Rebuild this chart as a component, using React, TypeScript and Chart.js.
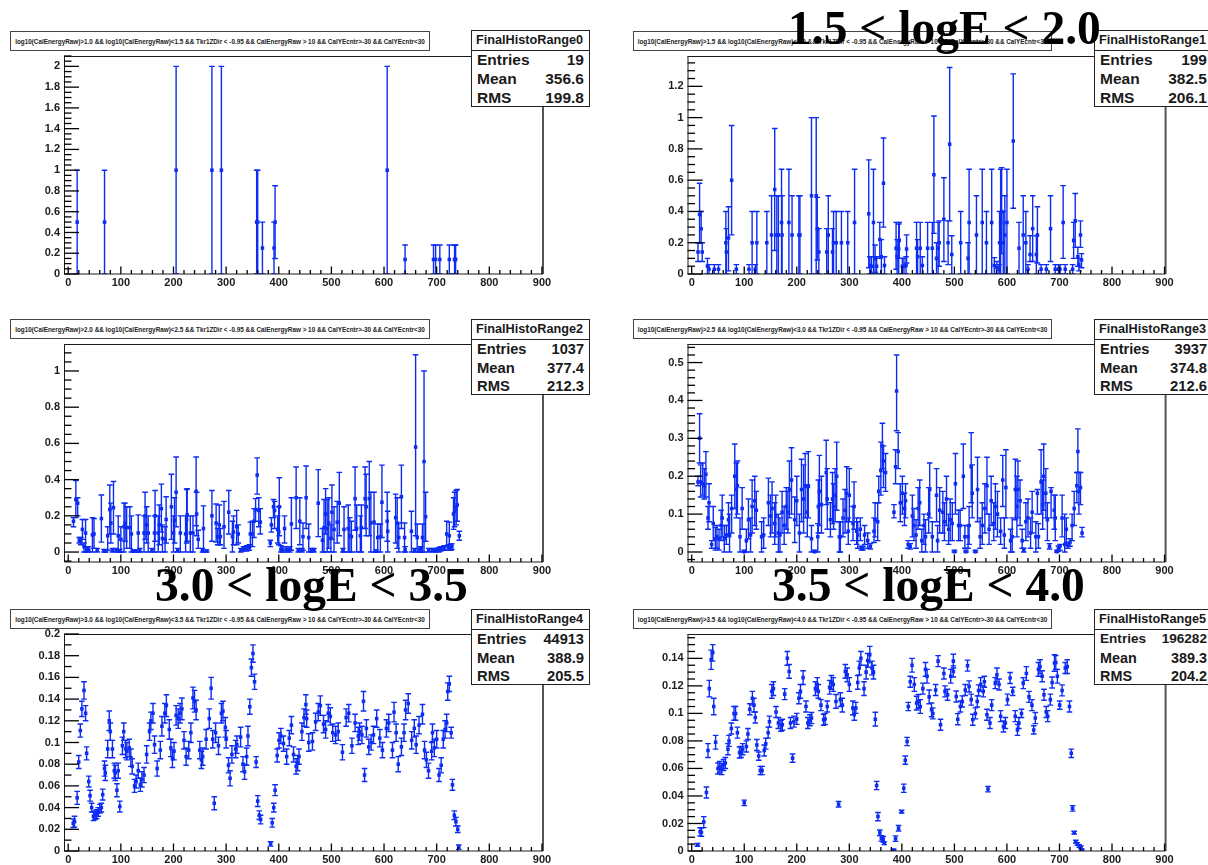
import React, { useEffect, useRef } from "react";
import { Chart, registerables } from "chart.js";

Chart.register(...registerables);

// Values: [x, y, lower end of error bar, upper end of error bar]
const range0 = [
  [17,.5,0,1],[69,.5,0,1],[205,1,0,2],[273,1,0,2],[291,1,0,2],[358,.5,0,1],[360,.5,0,1],[369,.25,0,.5],[391,.25,0,.5],[393,.5,.15,.85],
  [606,1,0,2],[640,.14,0,.28],[694,.14,0,.28],[698,.14,0,.28],[706,.14,0,.28],[724,.14,0,.28],[734,.14,0,.28],[735,.14,0,.28],[736,.14,0,.28],
];
const range1 = [
  [12,.14,.08,.2],[15,.38,.2,.58],[18,.29,.2,.4],[20,.14,.08,.2],[30,.05,0,.1],[33,.03,0,.06],[43,.03,0,.06],[51,.03,0,.06],[65,.2,0,.4],[66,.14,0,.29],
  [70,.23,.02,.43],[76,.6,.25,.95],[85,.03,0,.06],[109,.03,0,.06],[115,.2,0,.4],[121,.03,0,.06],[124,.2,0,.4],[143,.2,0,.4],[152,.25,0,.5],[158,.54,.15,.93],
  [162,.25,0,.5],[165,.25,0,.5],[171,.33,0,.67],[172,.25,0,.5],[185,.33,0,.67],[191,.25,0,.5],[204,.25,0,.5],[206,.25,0,.5],[228,.5,0,1],[237,.5,0,1],
  [239,.29,.09,.49],[242,.14,0,.29],[257,.14,0,.29],[260,.25,0,.5],[268,.14,0,.29],[270,.2,0,.4],[275,.2,0,.4],[285,.2,0,.4],[297,.2,0,.4],[310,.33,0,.67],
  [337,.385,.04,.73],[339,.055,0,.11],[342,.05,0,.11],[346,.33,0,.67],[349,.1,.01,.185],[352,.05,0,.11],[358,.22,.1,.33],[361,.11,0,.22],[365,.58,.3,.87],[367,.055,0,.11],
  [389,.165,.03,.33],[391,.11,0,.22],[394,.16,0,.32],[395,.215,.1,.33],[401,.05,0,.1],[404,.05,0,.1],[408,.055,0,.11],[409,.16,.07,.25],[428,.165,0,.33],[430,.11,0,.22],
  [435,.165,0,.33],[439,.055,0,.11],[449,.165,0,.33],[458,.165,0,.33],[461,.635,.26,1.01],[466,.1,0,.2],[469,.165,0,.33],[471,.2,.05,.34],[480,.35,.08,.615],[488,.2,.06,.34],
  [491,.83,.34,1.32],[495,.125,0,.245],[512,.2,0,.4],[526,.1,0,.2],[528,.33,0,.67],[542,.25,0,.5],[553,.33,0,.67],[561,.2,0,.4],[571,.33,0,.67],[576,.055,0,.105],
  [581,.04,0,.08],[585,.03,0,.06],[586,.2,0,.4],[588,.33,0,.67],[590,.4,.13,.68],[593,.2,0,.4],[596,.25,0,.5],[600,.33,0,.67],[612,.85,.42,1.28],[623,.165,0,.33],
  [631,.25,0,.5],[636,.2,0,.4],[640,.03,0,.06],[644,.125,.08,.245],[649,.29,.08,.5],[656,.125,0,.245],[658,.25,.07,.43],[665,.03,0,.06],[675,.03,0,.06],[683,.29,.08,.5],
  [692,.03,0,.06],[698,.03,0,.06],[701,.03,0,.06],[707,.33,.1,.565],[711,.03,0,.06],[725,.03,0,.06],[727,.215,.1,.33],[730,.34,.17,.515],[735,.11,.05,.17],[737,.06,.02,.1],
  [740,.25,.17,.34],[742,.09,.04,.13],
];
const range2 = [
  [10,.17,.14,.19],[14.5,.29,.19,.395],[18,.27,.2,.3],[21,.065,.05,.08],[24,.06,.04,.08],[27,.125,.07,.18],[30,.03,0,.05],[33,.105,0,.18],[36,.01,0,.025],[39,.012,0,.03],
  [46,.095,0,.19],[49,.1,.02,.185],[55,.01,0,.02],[63,.185,.055,.315],[68,.008,0,.015],[71,.005,0,.012],[75,.09,.01,.14],[79,.235,.1,.37],[81,.16,.05,.27],[84,.01,0,.02],
  [86,.245,.1,.39],[91,.01,0,.02],[95,.09,0,.2],[98,.005,0,.015],[100,.07,0,.14],[106,.14,0,.27],[108,.16,.06,.27],[111,.135,.02,.25],[117,.135,.02,.25],[120,.1,0,.2],
  [124,.005,0,.012],[128,.006,0,.012],[133,.105,0,.205],[136,.01,0,.02],[144,.105,0,.2],[146,.2,.07,.33],[149,.15,.05,.25],[152,.105,0,.2],[159,.01,0,.02],[164,.105,0,.2],
  [165,.2,.06,.34],[171,.105,0,.2],[173,.15,.04,.26],[177,.24,.11,.375],[179,.075,0,.15],[184,.07,0,.14],[186,.18,.05,.305],[196,.25,.07,.43],[200,.105,0,.2],[202,.175,.05,.3],
  [205,.33,.14,.525],[208,.01,0,.02],[213,.105,0,.2],[223,.1,0,.2],[225,.18,.05,.345],[226,.205,.06,.35],[232,.105,0,.2],[237,.105,0,.2],[243,.335,.145,.525],[244,.21,.09,.33],
  [247,.07,.02,.12],[255,.01,0,.02],[257,.13,0,.255],[263,.005,0,.012],[273,.2,.06,.34],[281,.16,.055,.265],[284,.085,.04,.13],[287,.15,.04,.26],[289,.085,.04,.13],[296,.14,.02,.28],
  [305,.22,.1,.34],[312,.085,0,.17],[314,.11,.04,.2],[320,.14,.04,.23],[323,.1,.05,.15],[328,.01,0,.02],[333,.018,.005,.03],[339,.02,.005,.035],[344,.025,.01,.04],[346,.1,.03,.165],
  [350,.1,.03,.17],[353,.17,.08,.24],[356,.235,.17,.295],[359,.425,.32,.52],[362,.23,.14,.3],[365,.165,.1,.24],[384,.05,.03,.065],[386,.15,.11,.19],[390,.25,.19,.29],[392,.23,.13,.28],
  [398,.125,.05,.2],[400,.11,.04,.25],[401,.25,.09,.41],[404,.015,0,.035],[408,.015,0,.03],[411,.13,.05,.2],[415,.015,0,.03],[421,.015,0,.03],[424,.155,.01,.3],[433,.3,.13,.47],
  [437,.01,0,.02],[440,.17,.04,.3],[444,.01,0,.02],[446,.085,.01,.16],[452,.3,.13,.475],[457,.08,0,.155],[462,.01,0,.02],[467,.01,0,.02],[475,.27,.085,.455],[483,.065,0,.13],
  [486,.135,0,.29],[489,.21,.1,.35],[492,.13,0,.29],[495,.16,.02,.3],[499,.075,0,.15],[501,.22,.07,.37],[505,.125,0,.25],[511,.165,.05,.28],[515,.27,.09,.44],[522,.01,0,.02],
  [524,.125,0,.25],[532,.13,0,.26],[535,.09,0,.19],[538,.085,0,.17],[545,.295,.12,.47],[548,.13,0,.26],[555,.09,0,.2],[557,.135,0,.26],[564,.295,.13,.47],[566,.25,.09,.43],
  [572,.295,.09,.5],[575,.16,0,.33],[581,.165,0,.33],[585,.005,0,.012],[588,.08,0,.155],[593,.085,0,.155],[596,.275,.08,.48],[606,.17,.06,.33],[607,.115,0,.225],[622,.19,.05,.32],
  [625,.16,.02,.3],[628,.08,0,.16],[633,.305,.13,.48],[639,.08,0,.16],[640,.015,0,.03],[652,.115,0,.225],[658,.01,0,.02],[660,.58,.09,1.09],[663,.08,0,.155],[668,.015,0,.03],
  [670,.02,0,.03],[673,.08,0,.155],[676,.5,0,1],[679,.195,.06,.33],[685,.01,0,.02],[692,.01,0,.02],[698,.01,0,.02],[704,.012,0,.025],[708,.017,.005,.03],[714,.02,.01,.035],
  [719,.1,.03,.17],[722,.025,.01,.04],[724,.09,.01,.165],[727,.03,.01,.045],[729,.03,.015,.045],[732,.21,.125,.3],[734,.225,.14,.33],[737,.245,.15,.34],[739,.26,.17,.345],[743,.09,.065,.115],
];
const range3 = [
  [12,.185,.175,.2],[15,.3,.235,.365],[17,.185,.145,.23],[21,.18,.15,.235],[24,.175,.14,.22],[27,.205,.145,.265],[31,.09,.06,.12],[33,.13,.08,.18],[38,.02,.01,.03],[41,.075,.03,.12],
  [45,.035,.005,.065],[48,.04,.01,.07],[52,.035,.005,.06],[56,.07,.03,.11],[58,.09,.04,.15],[62,.035,0,.07],[66,.045,.02,.07],[70,.085,.04,.13],[72,.045,0,.1],[76,.115,.05,.15],
  [82,.2,.115,.285],[85,.165,.09,.235],[87,.175,.1,.24],[92,.04,0,.09],[96,.115,.06,.17],[100,.001,0,.005],[104,.03,0,.06],[108,.085,.035,.14],[112,.045,0,.09],[115,.12,.05,.19],
  [120,.135,.07,.2],[123,.11,.06,.16],[133,.04,0,.08],[137,.045,.01,.09],[146,.13,.07,.195],[150,.095,.04,.15],[153,.115,.05,.185],[158,.075,.02,.13],[160,.095,.04,.15],[165,.05,0,.1],
  [168,.045,0,.09],[172,.105,.05,.16],[176,.07,.02,.12],[180,.12,.06,.17],[183,.105,.05,.16],[186,.165,.09,.24],[190,.19,.1,.275],[196,.085,.025,.145],[200,.135,.07,.2],[205,.05,0,.1],
  [209,.165,.08,.245],[213,.14,.05,.23],[216,.175,.09,.26],[220,.105,.04,.17],[222,.175,.09,.265],[228,.035,0,.07],[234,.001,0,.005],[240,.04,0,.075],[241,.12,.05,.19],[243,.16,.07,.255],
  [247,.125,.05,.2],[256,.21,.125,.295],[258,.14,.06,.22],[264,.085,.04,.13],[268,.14,.075,.21],[270,.12,.06,.18],[273,.15,.08,.22],[276,.2,.11,.29],[281,.04,0,.08],[283,.04,0,.08],
  [288,.09,.04,.14],[292,.11,.05,.165],[295,.155,.08,.225],[298,.055,.02,.09],[300,.15,.08,.22],[307,.075,.03,.12],[309,.12,.06,.185],[314,.055,.02,.09],[316,.045,.01,.08],[321,.06,.03,.09],
  [323,.01,.005,.015],[326,.01,.005,.015],[329,.045,.02,.07],[335,.03,.01,.05],[340,.015,.008,.022],[347,.055,.025,.09],[349,.085,.04,.13],[354,.08,.03,.13],[356,.16,.13,.2],[360,.215,.15,.29],
  [363,.28,.22,.34],[365,.24,.17,.28],[369,.21,.16,.26],[385,.105,.09,.125],[388,.225,.18,.27],[390,.425,.32,.52],[393,.265,.22,.315],[397,.13,.08,.18],[401,.155,.1,.2],[405,.115,.07,.155],
  [407,.135,.09,.18],[412,.02,.01,.03],[416,.015,.008,.022],[420,.095,.04,.15],[423,.07,.03,.115],[427,.045,.01,.085],[431,.115,.06,.17],[434,.13,.07,.19],[438,.03,0,.06],[442,.07,.02,.1],
  [445,.04,0,.085],[451,.1,.05,.17],[453,.165,.09,.235],[458,.04,0,.08],[466,.15,.08,.22],[468,.03,0,.07],[472,.11,.05,.17],[478,.105,.05,.16],[481,.08,.03,.13],[485,.14,.07,.2],
  [489,.06,.02,.1],[492,.085,.03,.14],[496,.075,.03,.13],[500,.001,0,.005],[502,.18,.1,.26],[508,.07,.03,.11],[511,.07,.03,.11],[517,.2,.115,.285],[520,.04,.01,.07],[522,.001,0,.005],
  [526,.04,.01,.07],[528,.07,.02,.12],[532,.225,.13,.315],[534,.155,.09,.23],[540,.001,0,.005],[544,.165,.08,.25],[549,.04,.01,.09],[553,.07,.02,.13],[558,.115,.05,.18],[562,.175,.1,.25],
  [566,.06,.02,.1],[570,.135,.07,.2],[575,.075,.03,.13],[578,.12,.06,.18],[582,.1,.04,.16],[588,.055,.02,.09],[592,.19,.12,.255],[595,.045,.01,.09],[598,.17,.09,.27],[607,.03,0,.06],
  [610,.04,0,.09],[616,.165,.085,.245],[619,.12,.04,.2],[621,.165,.09,.24],[625,.135,.07,.19],[629,.03,.01,.06],[632,.005,0,.01],[636,.08,.03,.13],[640,.09,.04,.14],[645,.05,.01,.09],
  [648,.105,.05,.16],[655,.04,0,.08],[658,.155,.1,.165],[660,.04,.01,.075],[665,.185,.1,.27],[668,.125,.06,.19],[670,.2,.11,.285],[674,.155,.09,.22],[677,.085,.03,.13],[681,.015,.008,.022],
  [684,.16,.09,.17],[690,.11,.06,.15],[692,.09,.03,.15],[695,.001,0,.005],[698,.01,.002,.016],[701,.015,.005,.02],[705,.09,.04,.15],[710,.02,0,.1],[713,.06,.02,.09],[716,.018,.01,.026],
  [720,.025,.015,.035],[724,.07,.03,.1],[728,.115,.07,.16],[733,.175,.13,.21],[735,.265,.21,.325],[737,.16,.1,.21],[740,.17,.125,.21],[743,.05,.04,.065],
];
// Values: [x, y, error]
const range4 = [
  [9.5,.0256,.004],[12,.027,.005],[17,.049,.006],[20,.082,.006],[23,.111,.006],[26,.131,.007],[30,.148,.008],[33,.127,.007],[35,.09,.006],[39,.064,.005],
  [41.5,.051,.005],[44.5,.04,.004],[48,.032,.004],[51,.033,.004],[54,.034,.004],[57,.036,.004],[60,.039,.004],[63,.04,.004],[65.5,.052,.005],[69,.076,.007],
  [70.5,.072,.007],[75,.094,.008],[78,.12,.009],[80,.11,.008],[84,.094,.008],[87.5,.074,.007],[89.5,.072,.007],[92.5,.056,.006],[95,.074,.007],[98,.041,.005],
  [103,.097,.008],[105.5,.11,.008],[109,.094,.008],[111.5,.092,.008],[116,.095,.008],[119,.086,.008],[121.5,.078,.007],[126,.06,.006],[129,.064,.006],[133,.074,.007],
  [137,.061,.006],[140,.066,.007],[144,.07,.007],[149,.089,.008],[154.5,.11,.008],[157,.12,.008],[161,.127,.009],[164,.098,.008],[169,.076,.007],[175,.093,.008],
  [178,.115,.009],[183.5,.127,.009],[186.5,.134,.01],[192,.112,.009],[195,.095,.008],[198,.085,.008],[201,.092,.008],[205,.125,.009],[209,.122,.009],[212.5,.127,.009],
  [216,.131,.01],[220,.102,.008],[224,.087,.008],[229,.093,.008],[233,.109,.009],[237,.141,.01],[240,.138,.01],[243,.13,.009],[250,.093,.008],[253,.084,.008],
  [255.5,.087,.008],[262,.103,.009],[268,.122,.009],[271.5,.15,.01],[274.5,.103,.008],[277.5,.044,.006],[280,.109,.009],[285.5,.097,.008],[291,.127,.009],[294,.129,.009],
  [298.5,.114,.009],[300,.103,.008],[304.5,.079,.007],[307.5,.067,.007],[311,.089,.008],[318,.094,.008],[320.5,.098,.008],[327.5,.105,.009],[332,.08,.007],[335,.073,.007],
  [339,.087,.008],[341.5,.106,.009],[345,.133,.007],[348,.169,.008],[351,.182,.008],[354,.156,.007],[357,.082,.005],[360,.046,.005],[363,.033,.004],[365.5,.029,.004],
  [384.5,.0065,.002],[387.5,.026,.004],[390.5,.04,.004],[393,.056,.005],[397,.088,.006],[400.5,.102,.007],[404,.106,.007],[409,.099,.007],[415,.087,.007],[420,.104,.007],
  [424,.116,.008],[428,.089,.007],[433,.078,.007],[436,.081,.007],[438.5,.087,.007],[444,.11,.008],[448,.123,.008],[451.5,.135,.009],[453,.122,.008],[457,.1,.008],
  [464,.101,.008],[470,.119,.008],[475,.128,.008],[479,.134,.009],[485,.117,.008],[489,.112,.008],[494,.127,.008],[498,.124,.008],[502.5,.109,.008],[508,.107,.008],
  [513,.11,.008],[521,.091,.007],[528,.123,.008],[533,.127,.008],[539,.097,.007],[545,.118,.008],[551,.106,.008],[553.5,.11,.008],[558,.107,.008],[561,.138,.009],
  [563,.07,.006],[566.5,.113,.008],[571,.096,.007],[575.5,.1,.007],[580,.107,.008],[586,.122,.008],[592,.104,.008],[597,.093,.007],[604.5,.113,.008],[609,.118,.008],
  [616,.093,.007],[619,.128,.009],[623,.109,.008],[627,.08,.007],[633,.096,.008],[638,.109,.008],[641,.13,.009],[646,.136,.009],[652.5,.102,.008],[657.5,.113,.008],
  [661,.098,.008],[666.5,.116,.008],[673,.126,.009],[677,.093,.008],[680.5,.084,.007],[684.5,.074,.007],[690.5,.092,.008],[692,.109,.008],[695.5,.095,.008],[700,.103,.008],
  [704.5,.07,.006],[708.5,.079,.007],[712.5,.103,.008],[716,.112,.008],[719,.118,.008],[721,.147,.008],[724,.154,.007],[727.5,.109,.005],[730,.061,.005],[733.5,.033,.004],
  [736.5,.027,.004],[740,.02,.003],[742,.0035,.002],
];
const range5 = [
  [11,.0044,.001],[16,.014,.003],[18.5,.0136,.003],[23,.021,.004],[28,.0425,.004],[31,.073,.005],[33.5,.118,.006],[37,.139,.007],[40,.144,.006],[42,.105,.006],
  [45.5,.079,.005],[50,.06,.004],[53.5,.061,.004],[57,.0595,.004],[60.5,.0625,.004],[64,.064,.004],[69,.074,.004],[71,.08,.004],[75.5,.089,.004],[80.5,.1,.005],
  [83.5,.1,.005],[87,.086,.004],[91,.0716,.004],[94,.072,.004],[97,.074,.004],[100,.035,.002],[104,.076,.004],[107,.085,.004],[110.5,.103,.004],[115.5,.111,.005],
  [118.5,.106,.005],[121,.097,.004],[124,.077,.004],[127.5,.069,.003],[130.5,.0585,.003],[134,.0585,.003],[138,.073,.004],[141,.078,.004],[145.5,.086,.004],[148,.094,.004],
  [152.5,.116,.005],[155.5,.118,.005],[160.5,.101,.004],[165,.093,.004],[170,.091,.004],[172.5,.0917,.004],[177,.114,.004],[182,.14,.005],[185.5,.1305,.005],[188,.093,.004],
  [192,.0675,.003],[194.5,.094,.004],[200,.096,.004],[204,.111,.004],[207,.116,.005],[212,.126,.005],[217.5,.105,.004],[221,.093,.004],[225,.095,.004],[228,.0966,.004],
  [235.5,.118,.005],[239,.121,.005],[241,.116,.005],[246,.106,.004],[251,.0954,.004],[254,.096,.004],[258,.105,.004],[262.5,.119,.005],[266,.1225,.005],[269.5,.121,.005],
  [274.6,.1087,.005],[279.6,.034,.002],[283,.11,.005],[286.7,.106,.005],[292.4,.1305,.005],[296,.128,.005],[300,.121,.005],[306.7,.104,.005],[309.5,.099,.004],[312.4,.104,.004],
  [316,.1225,.005],[319,.133,.005],[322,.14,.005],[328,.118,.005],[332,.13,.005],[335,.1385,.005],[339,.1427,.006],[343,.133,.005],[346,.13,.005],[349.5,.0958,.005],
  [352,.0476,.003],[354.5,.025,.003],[358,.0133,.002],[361,.0092,.002],[364.5,.0085,.002],[366.6,.0056,.001],[384.5,.0007,.0006],[388,.009,.002],[393.7,.0165,.002],[399.5,.0286,.001],
  [403.7,.0456,.003],[406.5,.066,.003],[410,.0796,.003],[412.3,.105,.003],[416,.123,.004],[419.4,.135,.005],[423.7,.121,.005],[428,.1075,.005],[431.5,.1087,.005],[435,.105,.005],
  [440,.118,.004],[445,.132,.005],[448,.127,.005],[452,.112,.005],[456.5,.1026,.005],[459,.1,.004],[464.3,.117,.004],[469,.138,.004],[473.6,.0917,.004],[480,.129,.004],
  [482,.116,.004],[487,.1135,.004],[493,.127,.005],[498,.1305,.004],[498,.138,.005],[503.5,.1123,.004],[506.4,.0958,.004],[511.4,.105,.004],[515,.1087,.004],[520.7,.117,.004],
  [525,.1347,.004],[528,.1196,.004],[532,.11,.004],[535,.0954,.004],[540,.1,.004],[543.5,.1087,.004],[546,.1167,.004],[550,.121,.005],[555,.116,.004],[557,.123,.004],
  [562,.099,.004],[564,.045,.002],[567.7,.093,.004],[571,.106,.004],[577.7,.122,.004],[581,.128,.005],[585,.121,.004],[588,.098,.004],[593.4,.0905,.004],[597,.093,.004],
  [601,.11,.004],[606,.1257,.004],[611,.116,.003],[615.8,.098,.004],[620,.088,.004],[622.7,.093,.004],[627.7,.1,.003],[631,.122,.004],[637,.129,.005],[642,.112,.004],
  [647.6,.106,.004],[651,.088,.003],[654,.0966,.004],[660,.132,.005],[663,.134,.005],[667,.127,.004],[670.5,.1135,.004],[674.8,.101,.004],[677.6,.098,.004],[682.6,.11,.004],
  [686,.1225,.004],[690.5,.1366,.006],[693,.137,.005],[696,.127,.005],[700.4,.106,.003],[705,.1167,.004],[711,.133,.004],[714.7,.134,.005],[719,.105,.004],[722.5,.071,.003],
  [725,.031,.002],[728,.0133,.001],[731,.0068,.001],[734,.0051,.001],[737.5,.0036,.001],[741,.0027,.001],[742.5,.0007,.0006],
];

const xLabels = [0, 100, 200, 300, 400, 500, 600, 700, 800, 900];
const yLabels0 = [0, .2, .4, .6, .8, 1, 1.2, 1.4, 1.6, 1.8, 2];
const yLabels1 = [0, .2, .4, .6, .8, 1, 1.2];
const yLabels2 = [0, .2, .4, .6, .8, 1];
const yLabels3 = [0, .1, .2, .3, .4, .5];
const yLabels4 = [0, .02, .04, .06, .08, .1, .12, .14, .16, .18, .2];
const yLabels5 = [0, .02, .04, .06, .08, .1, .12, .14];

const names = ["FinalHistoRange0", "FinalHistoRange1", "FinalHistoRange2", "FinalHistoRange3", "FinalHistoRange4", "FinalHistoRange5"];
const edgesLow = ["1.0", "1.5", "2.0", "2.5", "3.0", "3.5"];
const edgesHigh = ["1.5", "2.0", "2.5", "3.0", "3.5", "4.0"];
const entries = ["19", "199", "1037", "3937", "44913", "196282"];
const means = ["356.6", "382.5", "377.4", "374.8", "388.9", "389.3"];
const rmsValues = ["199.8", "206.1", "212.3", "212.6", "205.5", "204.2"];
const bigLabels = ["1.5 < logE < 2.0", "3.0 < logE < 3.5", "3.5 < logE < 4.0"];

const BLUE = "#0c2cf4";
const INK = "#1c1c1c";
const cut = (i: number) =>
  `log10(CalEnergyRaw)>${edgesLow[i]} && log10(CalEnergyRaw)<${edgesHigh[i]} && Tkr1ZDir < -0.95 && CalEnergyRaw > 10 && CalYEcntr>-30 && CalYEcntr<30`;

const toBars = (rows: number[][]) => rows.map((r) => (r.length === 3 ? [r[0], r[1], r[1] - r[2], r[1] + r[2]] : r));

const panels = [
  { rows: range0, yMin: 0, yMax: 2.1, labels: yLabels0, minor: .05 },
  { rows: range1, yMin: 0, yMax: 1.394, labels: yLabels1, minor: .05 },
  { rows: range2, yMin: -.055, yMax: 1.149, labels: yLabels2, minor: .05 },
  { rows: range3, yMin: -.0264, yMax: .549, labels: yLabels3, minor: .02 },
  { rows: range4, yMin: 0, yMax: .2, labels: yLabels4, minor: .01 },
  { rows: range5, yMin: 0, yMax: .1577, labels: yLabels5, minor: .005 },
];

// Page layout of each panel
const colLeft = [0, 620];
const colWidth = [600, 588];
const plotX = [[64, 543], [687.5, 1165.6]];
const statX = [471, 1094];
const boxX = [[10, 430], [633, 1052]];
const rowBox = [[31, 51], [319, 339], [609, 629]];
const rowPlot = [[56, 274], [344, 562], [634, 851]];
const rowStat = [[30, 106.5], [319, 395], [609, 685]];
const bigPos = [[788, 3], [155, 560], [772, 560]];
const entriesFont = [15.5, 15.5, 14.6, 14.6, 14.6, 13.6];
const otherFont = [15.5, 15.5, 14.8, 14.8, 14.8, 14.4];

function PanelChart({ index }: { index: number }) {
  const ref = useRef<HTMLCanvasElement>(null);
  const col = index % 2;
  const row = Math.floor(index / 2);
  const [plotTop, plotBottom] = rowPlot[row];
  const bottomSpace = 14;
  const pad = 6;
  const canvasH = plotBottom - plotTop + pad + bottomSpace;

  useEffect(() => {
    const p = panels[index];
    const bars = toBars(p.rows);
    const errorBars = {
      id: "errorBars",
      beforeDatasetsDraw(chart: any) {
        const { ctx, chartArea: a, scales } = chart;
        ctx.save();
        ctx.beginPath();
        ctx.rect(a.left, a.top, a.right - a.left, a.bottom - a.top);
        ctx.clip();
        ctx.strokeStyle = BLUE;
        ctx.lineWidth = 1.4;
        for (const [vx, , lo, hi] of bars) {
          const px = scales.x.getPixelForValue(vx);
          const pl = scales.y.getPixelForValue(lo);
          const ph = scales.y.getPixelForValue(hi);
          ctx.beginPath();
          ctx.moveTo(px, pl);
          ctx.lineTo(px, ph);
          ctx.moveTo(px - 2.8, pl);
          ctx.lineTo(px + 2.8, pl);
          ctx.moveTo(px - 2.8, ph);
          ctx.lineTo(px + 2.8, ph);
          ctx.stroke();
        }
        ctx.restore();
      },
    };
    const frame = {
      id: "frame",
      afterDraw(chart: any) {
        const { ctx, chartArea: a, scales } = chart;
        ctx.save();
        ctx.strokeStyle = INK;
        ctx.lineWidth = 1;
        ctx.beginPath();
        ctx.moveTo(a.left + .5, a.top);
        ctx.lineTo(a.left + .5, a.bottom);
        ctx.lineTo(a.right, a.bottom);
        ctx.moveTo(a.left, a.top + .5);
        ctx.lineTo(a.right, a.top + .5);
        ctx.stroke();
        ctx.strokeStyle = "#555";
        ctx.lineWidth = 2;
        ctx.beginPath();
        ctx.moveTo(a.right, a.top);
        ctx.lineTo(a.right, a.bottom);
        ctx.stroke();
        ctx.strokeStyle = "#000";
        ctx.lineWidth = 1.3;
        for (let v = 0; v <= 900; v += 20) {
          const px = scales.x.getPixelForValue(v);
          ctx.beginPath();
          ctx.moveTo(px, a.bottom);
          ctx.lineTo(px, a.bottom - (v % 100 === 0 ? 7.5 : 4));
          ctx.stroke();
        }
        const first = Math.ceil(p.yMin / p.minor - 1e-9);
        const last = Math.floor(p.yMax / p.minor + 1e-9);
        const step = Math.round((p.labels[1] - p.labels[0]) / p.minor);
        for (let k = first; k <= last; k++) {
          const py = scales.y.getPixelForValue(k * p.minor);
          ctx.beginPath();
          ctx.moveTo(a.left, py);
          ctx.lineTo(a.left + (k % step === 0 ? 15 : 7.5), py);
          ctx.stroke();
        }
        ctx.restore();
      },
    };
    const font = { family: "'Liberation Sans', Arial, sans-serif", size: 11, weight: "bold" as const };
    const chart = new Chart(ref.current as HTMLCanvasElement, {
      type: "scatter",
      data: {
        datasets: [
          {
            label: names[index],
            data: bars.map((r) => ({ x: r[0], y: r[1] })),
            backgroundColor: BLUE,
            borderColor: BLUE,
            borderWidth: 0,
            pointStyle: "rect",
            pointRadius: 2.5,
          },
        ],
      },
      options: {
        responsive: false,
        animation: false,
        events: [],
        layout: {
          autoPadding: false,
          padding: { left: 0, top: pad, bottom: 0, right: colWidth[col] - (plotX[col][1] - colLeft[col]) },
        },
        plugins: { legend: { display: false }, tooltip: { enabled: false }, title: { display: false } },
        scales: {
          x: {
            type: "linear",
            min: -8,
            max: 902,
            grid: { display: false, drawTicks: false },
            border: { display: false },
            afterBuildTicks: (axis: any) => {
              axis.ticks = xLabels.map((v) => ({ value: v }));
            },
            afterFit: (axis: any) => {
              axis.height = bottomSpace;
              axis.paddingLeft = 0;
              axis.paddingRight = 0;
            },
            ticks: { color: INK, font, padding: 2, autoSkip: false, maxRotation: 0, callback: (v: any) => String(v) },
          },
          y: {
            type: "linear",
            min: p.yMin,
            max: p.yMax,
            grid: { display: false, drawTicks: false },
            border: { display: false },
            afterBuildTicks: (axis: any) => {
              axis.ticks = p.labels.map((v) => ({ value: v }));
            },
            afterFit: (axis: any) => {
              axis.width = plotX[col][0] - colLeft[col];
              axis.paddingTop = 0;
              axis.paddingBottom = 0;
            },
            ticks: { color: INK, font, padding: 4, autoSkip: false, callback: (v: any) => String(v) },
          },
        },
      },
      plugins: [errorBars, frame],
    } as any);
    return () => chart.destroy();
  }, [index]);

  return (
    <canvas
      ref={ref}
      width={colWidth[col]}
      height={canvasH}
      style={{ position: "absolute", left: colLeft[col], top: plotTop - pad, width: colWidth[col], height: canvasH }}
    />
  );
}

function Overlay({ index }: { index: number }) {
  const col = index % 2;
  const row = Math.floor(index / 2);
  const sans = "'Liberation Sans', Arial, sans-serif";
  const [bx0, bx1] = boxX[col];
  const [by0, by1] = rowBox[row];
  const [sy0, sy1] = rowStat[row];
  const sx = statX[col];
  const rowH = (sy1 - sy0 - 20) / 3;
  const lines = [
    ["Entries", entries[index], entriesFont[index]],
    ["Mean", means[index], otherFont[index]],
    ["RMS", rmsValues[index], otherFont[index]],
  ];
  return (
    <>
      <div
        style={{
          position: "absolute", left: bx0, top: by0, width: bx1 - bx0, height: by1 - by0, boxSizing: "border-box",
          border: "1.5px solid #444", background: "#fff", display: "flex", alignItems: "center", justifyContent: "center",
          fontFamily: sans, fontWeight: "bold", fontSize: 6.35, color: "#222", whiteSpace: "nowrap",
        }}
      >
        {cut(index)}
      </div>
      <div
        style={{
          position: "absolute", left: sx, top: sy0, width: 119, height: sy1 - sy0, boxSizing: "border-box",
          border: "1.5px solid #222", background: "#fff", fontFamily: sans, fontWeight: "bold", color: "#1a1a1a",
        }}
      >
        <div style={{ height: 19, lineHeight: "18px", fontSize: 12.7, paddingLeft: 4, borderBottom: "1.5px solid #222", whiteSpace: "nowrap" }}>
          {names[index]}
        </div>
        {lines.map(([k, v, size]) => (
          <div key={k as string} style={{ height: rowH, lineHeight: `${rowH}px`, fontSize: size as number, display: "flex", justifyContent: "space-between", padding: "0 5px" }}>
            <span>{k}</span>
            <span>{v}</span>
          </div>
        ))}
      </div>
    </>
  );
}

export default function App() {
  const order = [0, 1, 2, 3, 4, 5];
  return (
    <div style={{ position: "absolute", left: 0, top: 0, width: 1208, height: 865, overflow: "hidden", background: "#fff" }}>
      <div style={{ position: "absolute", inset: 0, filter: "blur(0.6px)" }}>
        {order.map((i) => (
          <PanelChart key={i} index={i} />
        ))}
        {order.map((i) => (
          <Overlay key={i} index={i} />
        ))}
        {bigLabels.map((t, i) => (
          <div
            key={t}
            style={{
              position: "absolute", left: bigPos[i][0], top: bigPos[i][1], fontFamily: "'Liberation Serif', 'Times New Roman', serif",
              fontWeight: "bold", fontSize: 47.5, lineHeight: "50px", color: "#000", whiteSpace: "pre",
            }}
          >
            {t}
          </div>
        ))}
      </div>
    </div>
  );
}
